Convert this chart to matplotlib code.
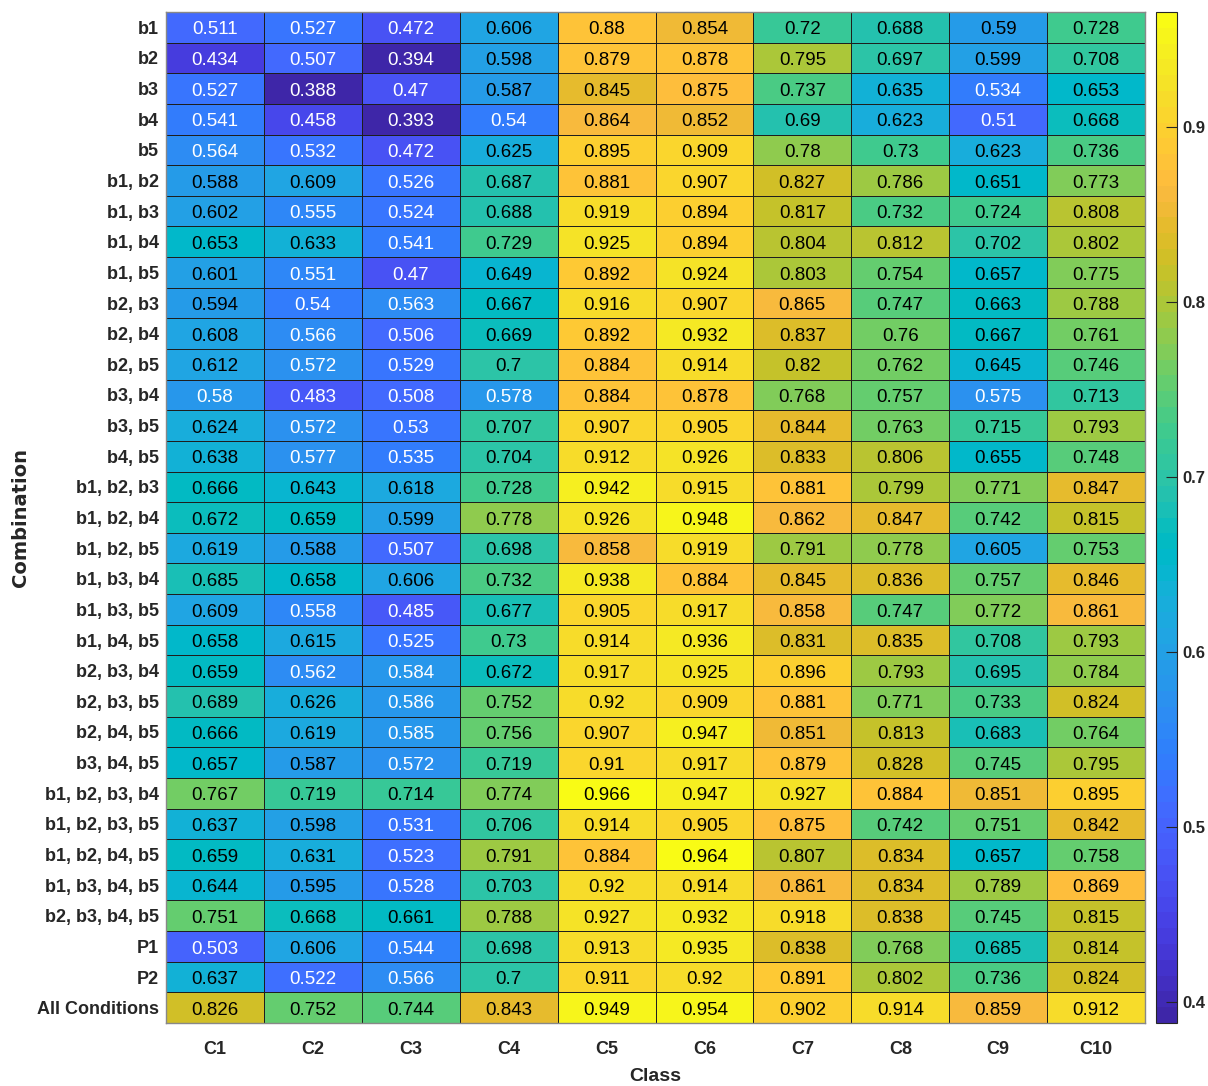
import numpy as np
import matplotlib
matplotlib.use("Agg")
import matplotlib.pyplot as plt
from matplotlib.colors import ListedColormap, Normalize

rows = ["b1", "b2", "b3", "b4", "b5",
        "b1, b2", "b1, b3", "b1, b4", "b1, b5", "b2, b3", "b2, b4", "b2, b5",
        "b3, b4", "b3, b5", "b4, b5",
        "b1, b2, b3", "b1, b2, b4", "b1, b2, b5", "b1, b3, b4", "b1, b3, b5",
        "b1, b4, b5", "b2, b3, b4", "b2, b3, b5", "b2, b4, b5", "b3, b4, b5",
        "b1, b2, b3, b4", "b1, b2, b3, b5", "b1, b2, b4, b5", "b1, b3, b4, b5",
        "b2, b3, b4, b5", "P1", "P2", "All Conditions"]
cols = ["C1", "C2", "C3", "C4", "C5", "C6", "C7", "C8", "C9", "C10"]

c1 = [0.511, 0.434, 0.527, 0.541, 0.564, 0.588, 0.602, 0.653, 0.601, 0.594, 0.608, 0.612,
      0.58, 0.624, 0.638, 0.666, 0.672, 0.619, 0.685, 0.609, 0.658, 0.659, 0.689, 0.666,
      0.657, 0.767, 0.637, 0.659, 0.644, 0.751, 0.503, 0.637, 0.826]
c2 = [0.527, 0.507, 0.388, 0.458, 0.532, 0.609, 0.555, 0.633, 0.551, 0.54, 0.566, 0.572,
      0.483, 0.572, 0.577, 0.643, 0.659, 0.588, 0.658, 0.558, 0.615, 0.562, 0.626, 0.619,
      0.587, 0.719, 0.598, 0.631, 0.595, 0.668, 0.606, 0.522, 0.752]
c3 = [0.472, 0.394, 0.47, 0.393, 0.472, 0.526, 0.524, 0.541, 0.47, 0.563, 0.506, 0.529,
      0.508, 0.53, 0.535, 0.618, 0.599, 0.507, 0.606, 0.485, 0.525, 0.584, 0.586, 0.585,
      0.572, 0.714, 0.531, 0.523, 0.528, 0.661, 0.544, 0.566, 0.744]
c4 = [0.606, 0.598, 0.587, 0.54, 0.625, 0.687, 0.688, 0.729, 0.649, 0.667, 0.669, 0.7,
      0.578, 0.707, 0.704, 0.728, 0.778, 0.698, 0.732, 0.677, 0.73, 0.672, 0.752, 0.756,
      0.719, 0.774, 0.706, 0.791, 0.703, 0.788, 0.698, 0.7, 0.843]
c5 = [0.88, 0.879, 0.845, 0.864, 0.895, 0.881, 0.919, 0.925, 0.892, 0.916, 0.892, 0.884,
      0.884, 0.907, 0.912, 0.942, 0.926, 0.858, 0.938, 0.905, 0.914, 0.917, 0.92, 0.907,
      0.91, 0.966, 0.914, 0.884, 0.92, 0.927, 0.913, 0.911, 0.949]
c6 = [0.854, 0.878, 0.875, 0.852, 0.909, 0.907, 0.894, 0.894, 0.924, 0.907, 0.932, 0.914,
      0.878, 0.905, 0.926, 0.915, 0.948, 0.919, 0.884, 0.917, 0.936, 0.925, 0.909, 0.947,
      0.917, 0.947, 0.905, 0.964, 0.914, 0.932, 0.935, 0.92, 0.954]
c7 = [0.72, 0.795, 0.737, 0.69, 0.78, 0.827, 0.817, 0.804, 0.803, 0.865, 0.837, 0.82,
      0.768, 0.844, 0.833, 0.881, 0.862, 0.791, 0.845, 0.858, 0.831, 0.896, 0.881, 0.851,
      0.879, 0.927, 0.875, 0.807, 0.861, 0.918, 0.838, 0.891, 0.902]
c8 = [0.688, 0.697, 0.635, 0.623, 0.73, 0.786, 0.732, 0.812, 0.754, 0.747, 0.76, 0.762,
      0.757, 0.763, 0.806, 0.799, 0.847, 0.778, 0.836, 0.747, 0.835, 0.793, 0.771, 0.813,
      0.828, 0.884, 0.742, 0.834, 0.834, 0.838, 0.768, 0.802, 0.914]
c9 = [0.59, 0.599, 0.534, 0.51, 0.623, 0.651, 0.724, 0.702, 0.657, 0.663, 0.667, 0.645,
      0.575, 0.715, 0.655, 0.771, 0.742, 0.605, 0.757, 0.772, 0.708, 0.695, 0.733, 0.683,
      0.745, 0.851, 0.751, 0.657, 0.789, 0.745, 0.685, 0.736, 0.859]
c10 = [0.728, 0.708, 0.653, 0.668, 0.736, 0.773, 0.808, 0.802, 0.775, 0.788, 0.761, 0.746,
       0.713, 0.793, 0.748, 0.847, 0.815, 0.753, 0.846, 0.861, 0.793, 0.784, 0.824, 0.764,
       0.795, 0.895, 0.842, 0.758, 0.869, 0.815, 0.814, 0.824, 0.912]

cbar_ticks = [0.4, 0.5, 0.6, 0.7, 0.8, 0.9]

parula_data = [
    [0.2422, 0.1504, 0.6603], [0.2504, 0.1650, 0.7076], [0.2578, 0.1818, 0.7511],
    [0.2647, 0.1978, 0.7952], [0.2706, 0.2147, 0.8364], [0.2751, 0.2342, 0.8710],
    [0.2783, 0.2559, 0.8991], [0.2803, 0.2782, 0.9221], [0.2813, 0.3006, 0.9414],
    [0.2810, 0.3228, 0.9579], [0.2795, 0.3447, 0.9717], [0.2760, 0.3667, 0.9829],
    [0.2699, 0.3892, 0.9906], [0.2602, 0.4123, 0.9952], [0.2440, 0.4358, 0.9988],
    [0.2206, 0.4603, 0.9973], [0.1963, 0.4847, 0.9892], [0.1834, 0.5074, 0.9798],
    [0.1786, 0.5289, 0.9682], [0.1764, 0.5499, 0.9520], [0.1687, 0.5703, 0.9359],
    [0.1540, 0.5902, 0.9218], [0.1460, 0.6091, 0.9079], [0.1380, 0.6276, 0.8973],
    [0.1248, 0.6459, 0.8883], [0.1113, 0.6635, 0.8763], [0.0952, 0.6798, 0.8598],
    [0.0689, 0.6948, 0.8394], [0.0297, 0.7082, 0.8163], [0.0036, 0.7203, 0.7917],
    [0.0067, 0.7312, 0.7660], [0.0433, 0.7411, 0.7394], [0.0964, 0.7500, 0.7120],
    [0.1408, 0.7584, 0.6842], [0.1717, 0.7670, 0.6554], [0.1938, 0.7758, 0.6251],
    [0.2161, 0.7843, 0.5923], [0.2470, 0.7918, 0.5567], [0.2906, 0.7973, 0.5188],
    [0.3406, 0.8008, 0.4789], [0.3909, 0.8029, 0.4354], [0.4456, 0.8024, 0.3909],
    [0.5044, 0.7993, 0.3480], [0.5616, 0.7942, 0.3045], [0.6174, 0.7876, 0.2612],
    [0.6720, 0.7793, 0.2227], [0.7242, 0.7698, 0.1910], [0.7738, 0.7598, 0.1646],
    [0.8203, 0.7498, 0.1535], [0.8634, 0.7406, 0.1596], [0.9035, 0.7330, 0.1774],
    [0.9393, 0.7288, 0.2100], [0.9728, 0.7298, 0.2394], [0.9956, 0.7434, 0.2371],
    [0.9970, 0.7659, 0.2199], [0.9952, 0.7893, 0.2028], [0.9892, 0.8136, 0.1885],
    [0.9786, 0.8386, 0.1766], [0.9676, 0.8639, 0.1643], [0.9610, 0.8890, 0.1537],
    [0.9597, 0.9135, 0.1423], [0.9628, 0.9373, 0.1265], [0.9691, 0.9606, 0.1064],
    [0.9769, 0.9839, 0.0805]]
parula = ListedColormap(parula_data, name="parula")

data = np.array([c1, c2, c3, c4, c5, c6, c7, c8, c9, c10]).T
vmin, vmax = data.min(), data.max()
norm = Normalize(vmin=vmin, vmax=vmax)

plt.rcParams['font.family'] = ['Liberation Sans', 'DejaVu Sans']

W, H = 1208, 1086
fig = plt.figure(figsize=(W / 100, H / 100), dpi=100)
ax_w = 1145 - 166
ax_h = 1023 - 12
ax = fig.add_axes([166 / W, (H - 1023) / H, ax_w / W, ax_h / H])
cax = fig.add_axes([1156 / W, (H - 1023) / H, 21 / W, ax_h / H])

nr, nc = data.shape
mesh = ax.pcolormesh(np.arange(nc + 1), np.arange(nr + 1), data, cmap=parula, norm=norm,
                     edgecolors='#1e1e1e', linewidth=0.7)
ax.set_xlim(0, nc)
ax.set_ylim(nr, 0)
for i in range(nr):
    for j in range(nc):
        v = data[i, j]
        ax.text(j + 0.5, i + 0.52, f"{v:g}", ha='center', va='center_baseline',
                fontsize=13.5, color='white' if v < 0.5865 else 'black')

ax.set_xticks(np.arange(nc) + 0.5)
ax.set_xticklabels(cols, fontsize=13, fontweight='bold', color='#262626')
ax.set_yticks(np.arange(nr) + 0.5)
ax.set_yticklabels(rows, fontsize=13, fontweight='bold', color='#262626')
ax.tick_params(length=0, pad=5)
ax.tick_params(axis='x', pad=13)
for s in ax.spines.values():
    s.set_color('#888888')
    s.set_linewidth(1.0)
ax.set_xlabel("Class", fontsize=14, fontweight='bold', color='#262626')
ax.xaxis.set_label_coords(0.5, -(1068 - 1023) / ax_h)
ax.set_ylabel("Combination", fontsize=14, fontweight='bold', color='#262626',
              family='DejaVu Sans')
ax.yaxis.set_label_coords(-(166 - 30) / ax_w, 0.5)

cb = fig.colorbar(mesh, cax=cax)
cb.set_ticks(cbar_ticks)
cb.ax.set_yticklabels([f"{t:g}" for t in cbar_ticks], fontsize=12, fontweight='bold',
                      color='#262626')
cb.ax.tick_params(direction='in', length=8, width=0.8, color='#262626', pad=4)
cb.outline.set_edgecolor('#262626')
cb.outline.set_linewidth(0.8)

fig.savefig("out.png", dpi=100)
